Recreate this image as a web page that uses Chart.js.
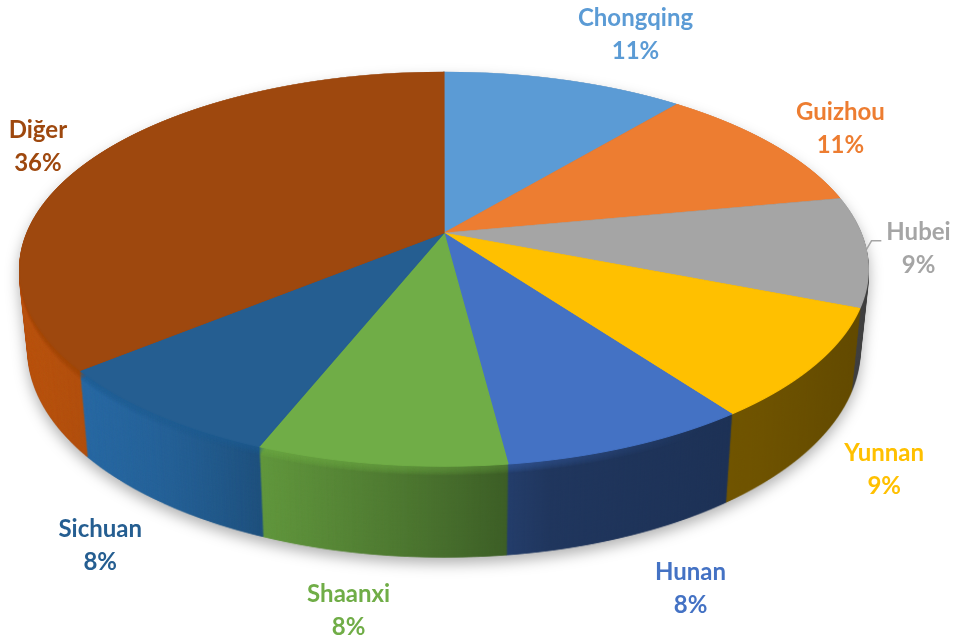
<!DOCTYPE html>
<html><head><meta charset="utf-8">
<script src="https://cdn.jsdelivr.net/npm/chart.js@4.4.1/dist/chart.umd.min.js"></script>
<style>html,body{margin:0;padding:0;background:#fff;}canvas{display:block;}</style>
</head><body>
<canvas id="c" width="954" height="641"></canvas>
<script>
// ---- data ----
const categories = ['Chongqing', 'Guizhou', 'Hubei', 'Yunnan', 'Hunan', 'Shaanxi', 'Sichuan', 'Diğer'];
const shares = [11, 11, 9, 9, 8, 8, 8, 36];
const percentLabels = ['11%', '11%', '9%', '9%', '8%', '8%', '8%', '36%'];

// ---- styles ----
const sliceColors = ['#5B9BD5', '#ED7D31', '#A5A5A5', '#FFC000', '#4472C4', '#70AD47', '#255E91', '#9E480E'];
const labelOffsets = [[71, -45.5], [68, -16], [52, -3.5], [69, 104], [61.5, 141.5], [-31.5, 146], [-56, 131], [-56, -12]];
const leaderLines = [false, false, true, false, false, false, false, false];
const tilt = 27.2 * Math.PI / 180;
const V = { X0: 444, Y0: 233, F: 2027, L: 4.86, C: Math.cos(tilt), S: Math.sin(tilt), H: 0.218 };

function project(X, Z, t) {
  const den = V.L + t * V.S + Z * V.C;
  return [V.X0 + V.F * X / den, V.Y0 - V.F * (Z * V.S - t * V.C) / den];
}
function maxHalfWidth(t) {
  let m = 0;
  for (let i = 0; i < 720; i++) {
    const th = i * Math.PI / 360;
    const p = project(Math.sin(th), Math.cos(th), t);
    m = Math.max(m, p[0] - V.X0);
  }
  return m;
}
function makeCanvas(W, H) {
  const c = document.createElement('canvas');
  c.width = W; c.height = H;
  return c;
}
function maskLeft(c2, W, H, x0, x1, stops) {
  const g = c2.createLinearGradient(x0, 0, x1, 0);
  stops.forEach(([p, a]) => g.addColorStop(p, 'rgba(0,0,0,' + a + ')'));
  c2.globalAlpha = 1;
  c2.globalCompositeOperation = 'destination-in';
  c2.fillStyle = g;
  c2.fillRect(0, 0, W, H);
  c2.globalCompositeOperation = 'source-over';
}

const pie3d = {
  id: 'pie3d',
  beforeDatasetsDraw(chart) {
    const ctx = chart.ctx;
    const arcs = chart.getDatasetMeta(0).data;
    const cx = arcs[0].x, cy = arcs[0].y, r = arcs[0].outerRadius;
    const W = chart.width, H = chart.height;

    // top face, drawn in thin perspective bands by the library's own arc elements
    const face = makeCanvas(W, H);
    const f = face.getContext('2d');
    const yTop = project(0, 1, 0)[1], yBot = project(0, -1, 0)[1];
    for (let y = Math.floor(yTop) - 2; y <= Math.ceil(yBot) + 2; y++) {
      const ym = y + 0.5;
      const u = (V.Y0 - ym) / (V.F * V.S);
      const Z = u * V.L / (1 - u * V.C);
      const den = V.L + Z * V.C;
      const sx = V.F / (den * r);
      const sy = V.F * V.S * V.L / (den * den * r);
      f.save();
      f.beginPath(); f.rect(0, y, W, 1); f.clip();
      f.setTransform(sx, 0, 0, sy, V.X0 - sx * cx, ym - sy * (cy - Z * r));
      arcs.forEach(a => a.draw(f));
      f.restore();
    }

    // side wall: stacked lower levels of the face
    const yb0 = yTop, yf0 = yBot, w0 = maxHalfWidth(0);
    const N = 110;
    const levelDraw = (c2, k) => {
      const t = V.H * k / N;
      const ybt = project(0, 1, t)[1], yft = project(0, -1, t)[1];
      const b = (yft - ybt) / (yf0 - yb0);
      const kx = maxHalfWidth(t) / w0;
      c2.drawImage(face, V.X0 - V.X0 * kx, ybt - yb0 * b, W * kx, H * b);
    };
    const side = makeCanvas(W, H);
    const s = side.getContext('2d');
    for (let k = N; k >= 1; k--) levelDraw(s, k);
    s.save();
    s.globalCompositeOperation = 'source-atop';
    const g = s.createLinearGradient(20, 0, 868, 0);
    const shade = [[0, 0], [0.153, 0.02], [0.307, 0.15], [0.448, 0.30], [0.531, 0.40], [0.625, 0.52], [0.873, 0.57], [1, 0.62]];
    shade.forEach(([p, a]) => g.addColorStop(p, 'rgba(0,0,0,' + a + ')'));
    s.fillStyle = g;
    s.fillRect(0, 0, W, H);
    s.restore();

    // brighter left flank
    const lit = makeCanvas(W, H);
    const lt = lit.getContext('2d');
    lt.filter = 'brightness(1.18)';
    for (let k = N; k >= 1; k--) levelDraw(lt, k);
    lt.filter = 'none';
    maskLeft(lt, W, H, 20, 260, [[0, 1], [0.4, 0.6], [1, 0]]);
    s.drawImage(lit, 0, 0);

    // rounded rim highlight (lit from the left)
    const bevel = makeCanvas(W, H);
    const bv = bevel.getContext('2d');
    bv.globalAlpha = 0.13;
    for (let k = 10; k >= 1; k--) levelDraw(bv, k);
    maskLeft(bv, W, H, 20, 700, [[0, 1], [0.55, 0.8], [1, 0]]);
    s.drawImage(bevel, 0, 0);

    ctx.save();
    ctx.shadowColor = 'rgba(0,0,0,0.30)';
    ctx.shadowBlur = 14;
    ctx.shadowOffsetY = 6;
    ctx.drawImage(side, 0, 0);
    ctx.restore();
    ctx.drawImage(face, 0, 0);
    return false;
  },
  afterDraw(chart) {
    const ctx = chart.ctx;
    const arcs = chart.getDatasetMeta(0).data;
    ctx.save();
    ctx.font = 'bold 24px Lato';
    ctx.textAlign = 'center';
    ctx.textBaseline = 'alphabetic';
    arcs.forEach((a, i) => {
      const m = (a.startAngle + a.endAngle) / 2;
      const [px, py] = project(Math.cos(m), -Math.sin(m), 0);
      const lx = px + labelOffsets[i][0], ly = py + labelOffsets[i][1];
      ctx.fillStyle = sliceColors[i];
      ctx.fillText(categories[i], lx, ly - 8);
      ctx.fillText(percentLabels[i], lx, ly + 25);
      if (leaderLines[i]) {
        const tw = ctx.measureText(categories[i]).width;
        ctx.strokeStyle = sliceColors[i];
        ctx.lineWidth = 1.5;
        ctx.beginPath();
        ctx.moveTo(px, py - 2);
        ctx.lineTo(px + 5, ly - 7);
        ctx.lineTo(lx - tw / 2 - 5, ly - 7);
        ctx.stroke();
      }
    });
    ctx.restore();
  }
};

new Chart(document.getElementById('c'), {
  type: 'pie',
  data: {
    labels: categories,
    datasets: [{
      data: shares,
      backgroundColor: sliceColors,
      borderColor: sliceColors,
      borderWidth: 1,
      clip: false
    }]
  },
  options: {
    responsive: false,
    devicePixelRatio: 1,
    animation: false,
    events: [],
    plugins: { legend: { display: false }, tooltip: { enabled: false } }
  },
  plugins: [pie3d]
});
</script>
</body></html>
